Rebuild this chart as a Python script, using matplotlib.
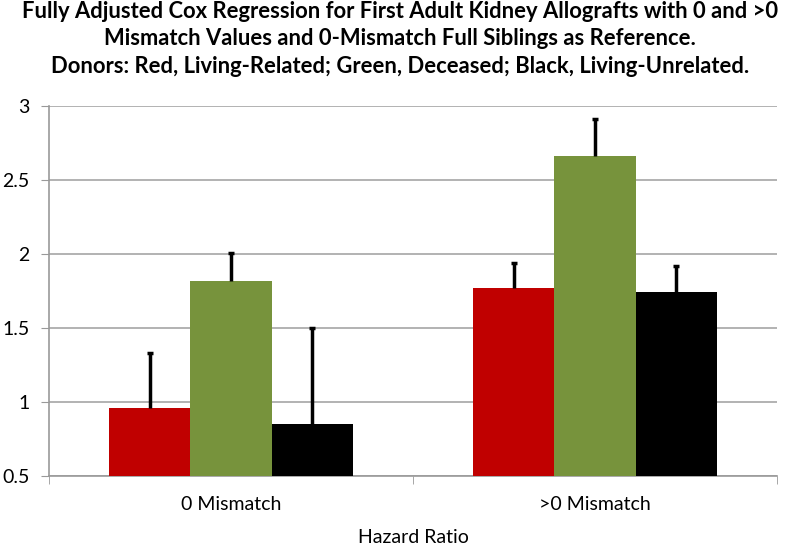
import matplotlib
matplotlib.use("Agg")
import matplotlib.pyplot as plt
import numpy as np

categories = ["0 Mismatch", ">0 Mismatch"]
series_names = ["Living-Related", "Deceased", "Living-Unrelated"]
colors = ["#c00000", "#77933c", "#000000"]
values = [
    [0.96, 1.77],   # red, living-related
    [1.82, 2.66],   # green, deceased
    [0.85, 1.74],   # black, living-unrelated
]
upper = [
    [1.33, 1.94],
    [2.01, 2.91],
    [1.50, 1.92],
]
yticks = [0.5, 1, 1.5, 2, 2.5, 3]
ytick_labels = ["0.5", "1", "1.5", "2", "2.5", "3"]
title = ("Fully Adjusted Cox Regression for First Adult Kidney Allografts with 0 and >0\n"
         "Mismatch Values and 0-Mismatch Full Siblings as Reference.\n"
         "Donors: Red, Living-Related; Green, Deceased; Black, Living-Unrelated.")
xlabel = "Hazard Ratio"

plt.rcParams['font.family'] = ['Lato', 'DejaVu Sans']

fig = plt.figure(figsize=(8, 5.46), dpi=100)
ax = fig.add_axes([0.06125, 0.128, 0.91, 0.678])

x = np.arange(len(categories))
bw = 0.223
base = 0.5
for i, (vals, ups, c) in enumerate(zip(values, upper, colors)):
    pos = x + (i - 1) * bw
    heights = [v - base for v in vals]
    ax.bar(pos, heights, bw, bottom=base, color=c, zorder=3, label=series_names[i])
    ax.vlines(pos, vals, ups, colors='black', linewidth=2.5, zorder=4)
    ax.plot(pos, ups, linestyle='none', marker='_', markersize=5,
            markeredgewidth=2.5, color='black', zorder=4)

ax.set_xlim(-0.5, len(categories) - 0.5)
ax.set_ylim(0.5, 3)
ax.set_yticks(yticks)
ax.set_yticklabels(ytick_labels, fontsize=14)
ax.set_xticks(x)
ax.set_xticklabels(categories, fontsize=14)
ax.set_xticks([-0.5, 0.5, 1.5], minor=True)
ax.tick_params(axis='x', which='major', length=0, pad=14)
ax.tick_params(axis='x', which='minor', length=6, color='#999999', direction='out')
ax.tick_params(axis='y', length=6, color='#999999', direction='out', pad=8)
ax.yaxis.grid(True, color='#a6a6a6', linewidth=1.2, zorder=0)
for s in ['top', 'right']:
    ax.spines[s].set_visible(False)
for s in ['left', 'bottom']:
    ax.spines[s].set_color('#999999')
    ax.spines[s].set_linewidth(1.2)

fig.text(ax.get_position().x0 + ax.get_position().width / 2, 3.0 / 546, xlabel,
         ha='center', va='baseline', fontsize=14)
fig.text(0.5, 0.999, title, ha='center', va='top', fontsize=15.8, fontweight='bold',
         linespacing=1.4)

fig.savefig("out.png", dpi=100)
